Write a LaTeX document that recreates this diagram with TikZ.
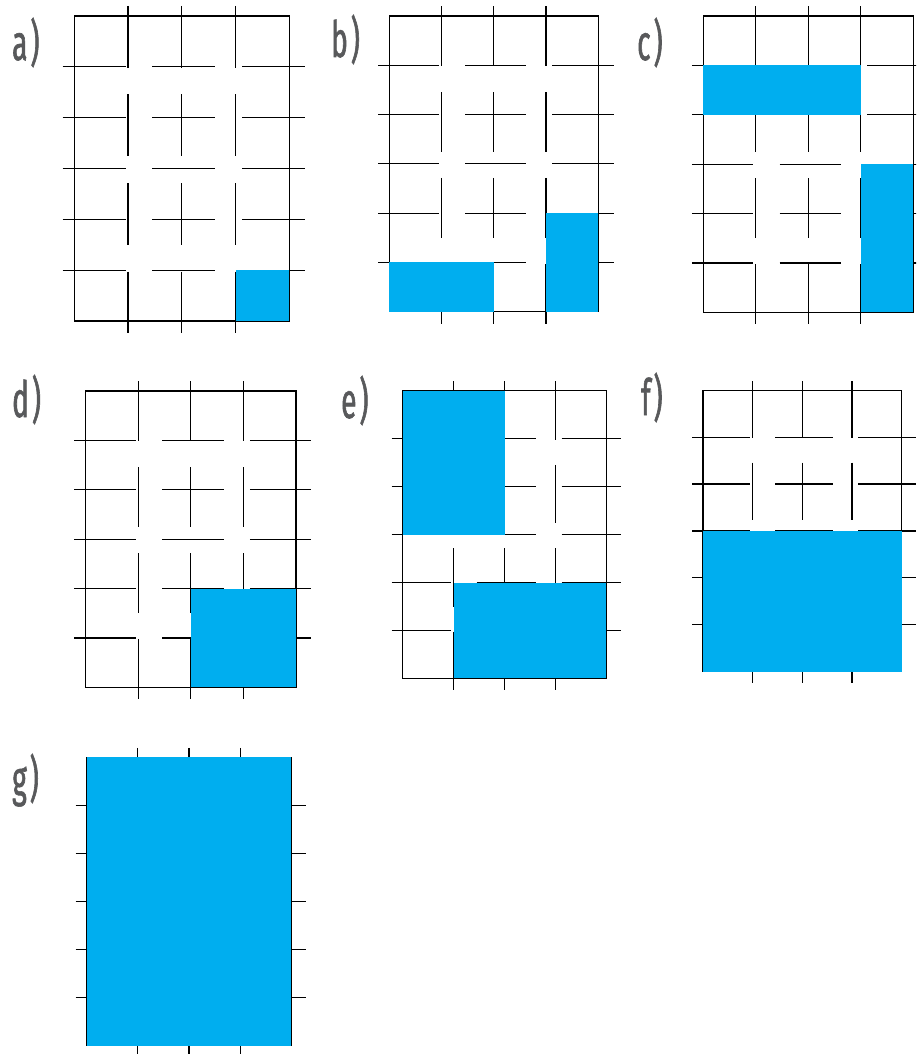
\documentclass[tikz,border=0pt]{standalone}
\usepackage{fontspec}
\newfontfamily\labfont[FakeStretch=0.56,FakeBold=1.2]{Fira Sans}
\definecolor{cyanfill}{RGB}{0,174,239}
\definecolor{labgray}{RGB}{88,89,91}
\tikzset{
  gline/.style={line width=1.25pt, draw=black},
  blk/.style={fill=cyanfill},
  lab/.style={anchor=base west, inner sep=0pt, text=labgray, font=\labfont\fontsize{50}{50}\selectfont},
}
\newcommand\gridpanel[4]{%
  \def\pX{#1}\def\pY{#2}\def\pW{#3}\def\pH{#4}%
  \pgfmathsetmacro\sx{#3/215}%
  \pgfmathsetmacro\sy{#4/305}%
  \pgfmathsetmacro\hon{62.9*\sx}%
  \pgfmathsetmacro\hoff{26.8*\sx}%
  \pgfmathsetmacro\hst{#1-11.6*\sx}%
  \pgfmathsetmacro\hen{\hst+242.3*\sx}%
  \pgfmathsetmacro\von{61.8*\sy}%
  \pgfmathsetmacro\voff{26.7*\sy}%
  \pgfmathsetmacro\vst{#2-10*\sy}%
  \pgfmathsetmacro\ven{\vst+327.3*\sy}%
  \draw[gline] (#1,#2) rectangle ++(#3,#4);
  \foreach \i in {1,...,5}{%
    \pgfmathsetmacro\yy{#2+\i*#4/6}%
    \draw[gline, dash pattern=on \hon pt off \hoff pt] (\hst,\yy) -- (\hen,\yy);
  }%
  \foreach \j in {1,2,3}{%
    \pgfmathsetmacro\xx{#1+\j*#3/4}%
    \draw[gline, dash pattern=on \von pt off \voff pt] (\xx,\vst) -- (\xx,\ven);
  }%
}
\newcommand\blueblock[4]{%
  \fill[blk] ({\pX+#1*\pW/4},{\pY+#2*\pH/6}) rectangle ({\pX+#3*\pW/4},{\pY+#4*\pH/6});
}
\begin{document}
\begin{tikzpicture}[x=1pt,y=-1pt]
\useasboundingbox (0,0) rectangle (916,1054);
\clip (0,0) rectangle (916,1054);
% a
\gridpanel{74.3}{16}{215}{305}
\blueblock{3}{5}{4}{6}
% b
\gridpanel{389.3}{16}{209}{295.7}
\blueblock{0}{5}{2}{6}
\blueblock{3}{4}{4}{6}
% c
\gridpanel{703.3}{16}{210}{296.3}
\blueblock{0}{1}{3}{2}
\blueblock{3}{3}{4}{6}
% d
\gridpanel{85.7}{391}{210.3}{296.3}
\blueblock{2}{4}{4}{6}
% e
\gridpanel{402.7}{390.7}{203.7}{287.7}
\blueblock{0}{0}{2}{3}
\blueblock{1}{4}{4}{6}
% f
\gridpanel{703}{390.3}{198.7}{281.3}
\blueblock{0}{3}{4}{6}
% g
\gridpanel{86.7}{757.3}{204.6}{288.4}
\blueblock{0}{0}{4}{6}
% labels
\node[lab] (la) at (12,60) {a\kern3pt)};
\node[lab] (lb) at (331,57) {b\kern3pt)};
\node[lab] (lc) at (637,60) {c\kern3pt)};
\node[lab] (ld) at (12,417) {d\kern3pt)};
\node[lab] (le) at (341,418) {e\kern3pt)};
\node[lab] (lf) at (641,415) {f\kern3pt)};
\node[lab] (lg) at (12,796) {g\kern3pt)};
\end{tikzpicture}
\end{document}
